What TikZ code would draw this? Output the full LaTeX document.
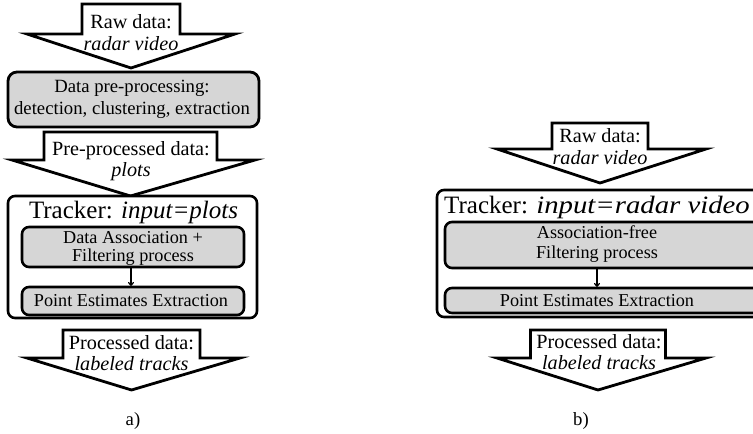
\documentclass[tikz,border=0pt]{standalone}
\usepackage{fontspec}
\setmainfont{Liberation Serif}
\usetikzlibrary{arrows.meta}

% block arrow outline: centre x, top y, shaft half width, head y, wing left, wing right, tip y
\newcommand\blockarrow[7]{%
  \draw[bigarrow] (#1-#3,#2) -- (#1+#3,#2) -- (#1+#3,#4) -- (#6,#4)
    -- (#1,#7) -- (#5,#4) -- (#1-#3,#4) -- cycle;}

\begin{document}
\begin{tikzpicture}[x=1pt,y=-1pt,
  bigarrow/.style={draw=black,fill=white,line width=2.8pt,line join=miter},
  procbox/.style={draw=black,fill=boxgray,line width=2.8pt,rounded corners=9pt},
  innerbox/.style={draw=black,fill=boxgray,line width=2.6pt,rounded corners=7pt},
  trackbox/.style={draw=black,fill=white,line width=2.6pt,rounded corners=7pt},
  atxt/.style={align=center,inner sep=0pt,font=\fontsize{20.2}{21.5}\selectfont},
  txt/.style={align=center,inner sep=0pt,font=\fontsize{18.7}{21.5}\selectfont},
  itxt/.style={align=center,inner sep=0pt,font=\fontsize{18.2}{17.5}\selectfont},
  ttl/.style={inner sep=0pt,font=\fontsize{25}{28}\selectfont},
  smallarrow/.style={-{To[length=4pt,width=6pt]},line width=1.2pt}]
\definecolor{boxgray}{HTML}{D6D6D6}
\useasboundingbox (0,0) rectangle (753,434);

% ---------------- panel a ----------------
\blockarrow{131}{4}{49}{34}{27}{235}{68}
\node[atxt] (araw) at (131,32.5) {Raw data:\\\textit{radar video}};

\draw[procbox] (8,72) rectangle (259,127);
\node[txt] (apre) at (132,99.5) {Data pre-processing:\\detection, clustering, extraction};

\blockarrow{130.5}{132}{86.5}{160}{12}{255}{196}
\node[atxt] (aplots) at (131,161) {Pre-processed data:\\\textit{plots}};

\draw[trackbox] (8,196) rectangle (257,318);
\node[ttl] (atrk) at (133.5,212) {Tracker: \textit{input=plots}};

\draw[innerbox] (22,227) rectangle (244,267);
\node[itxt] (aassoc) at (133,248.5) {Data Association +\\Filtering process};
\draw[innerbox] (22,287) rectangle (244,315);
\node[itxt] (apoint) at (131,301) {Point Estimates Extraction};
\coordinate (afilt) at (131,267);
\coordinate (aext) at (131,286);
\draw[smallarrow] (afilt) -- (aext);

\blockarrow{131.5}{330}{68.5}{358}{27}{240}{390}
\node[atxt] (aout) at (131.5,353) {Processed data:\\\textit{labeled tracks}};

\node[txt] (alabel) at (133,421) {a)};

% ---------------- panel b ----------------
\blockarrow{600}{123}{48}{149}{497}{706}{183}
\node[atxt] (braw) at (600,146.5) {Raw data:\\\textit{radar video}};

\draw[trackbox] (437,190) rectangle (770,317);
\node[ttl,anchor=west] (btrk) at (444,207) {Tracker: \scalebox{1.15}[1]{\textit{input=radar video}}};

\draw[innerbox] (445,222) rectangle (765,268);
\node[itxt] (bfree) at (597,244) {Association-free\\[3pt]Filtering process};
\draw[innerbox] (445,288) rectangle (765,313);
\node[itxt] (bpoint) at (597,300.5) {Point Estimates Extraction};
\coordinate (bfilt) at (597,268);
\coordinate (bext) at (597,287);
\draw[smallarrow] (bfilt) -- (bext);

\blockarrow{598}{330}{67.5}{358}{497}{706}{390}
\node[atxt] (bout) at (599,352) {Processed data:\\\textit{labeled tracks}};

\node[txt] (blabel) at (581,421) {b)};
\end{tikzpicture}
\end{document}
